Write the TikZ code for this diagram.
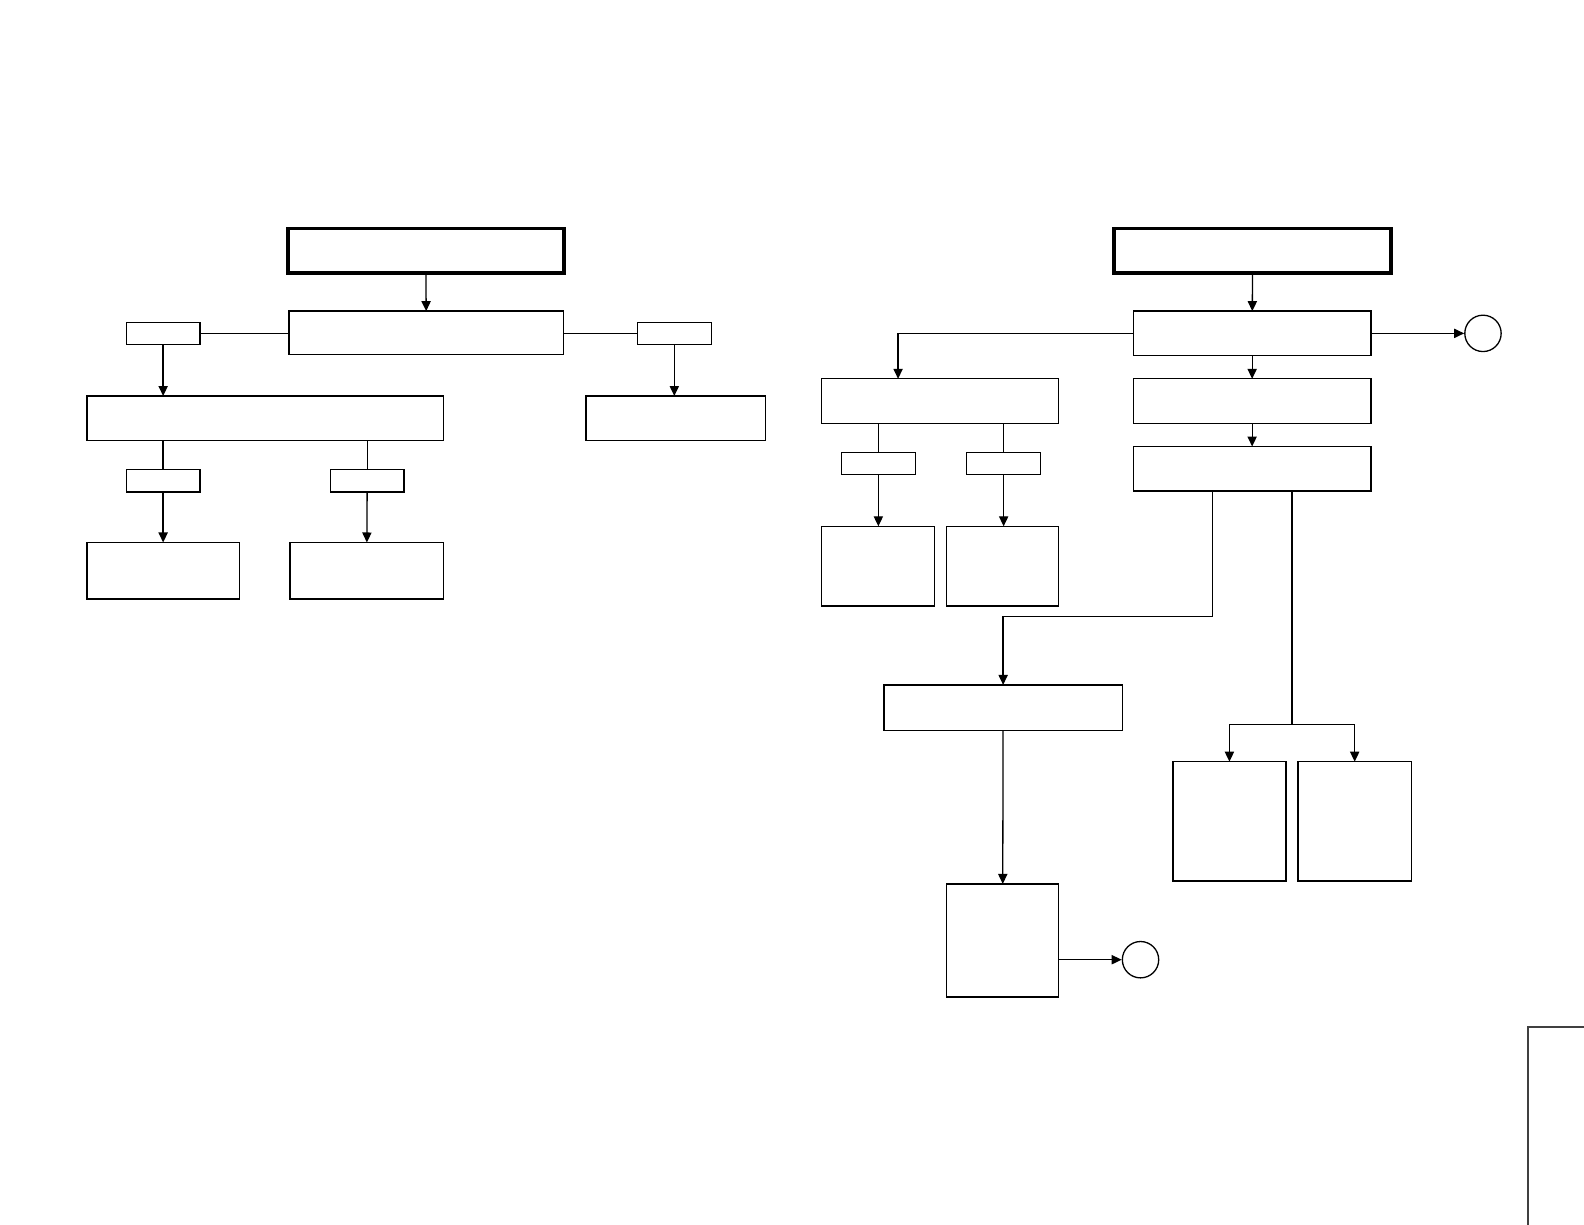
\documentclass[tikz,border=0pt]{standalone}
\usepackage{tikz}
\usetikzlibrary{arrows.meta, positioning, calc}

\newcommand{\px}{0.505pt}

\begin{document}
\begin{tikzpicture}[x=0.505pt, y=-0.505pt,
    >={Triangle[length=5pt, width=4.6pt]},
    line width=0.65pt,
    box/.style={draw, rectangle, inner sep=0pt, outer sep=0pt},
    headbox/.style={box, line width=1.8pt},
    tagbox/.style={box, minimum width=73*\px, minimum height=22*\px},
    endpoint/.style={draw, circle, inner sep=0pt, minimum size=36*\px}]

  \useasboundingbox (0,0) rectangle (1568,1212);

  % left tree
  \node[headbox, minimum width=273*\px, minimum height=44*\px] (ltop) at (421.5,248) {};
  \node[box, minimum width=272*\px, minimum height=43*\px] (lmain) at (422,329.5) {};
  \node[tagbox] (ltagl) at (161.5,330) {};
  \node[tagbox] (ltagr) at (667.5,330) {};
  \node[box, minimum width=353*\px, minimum height=44*\px] (lwide) at (262.5,414) {};
  \node[box, minimum width=178*\px, minimum height=44*\px] (lright) at (669,414) {};
  \node[tagbox] (ltagd) at (161.5,476) {};
  \node[tagbox] (ltage) at (363.5,476) {};
  \node[box, minimum width=151*\px, minimum height=56*\px] (lleafd) at (161.5,565) {};
  \node[box, minimum width=152*\px, minimum height=56*\px] (lleafe) at (363,565) {};

  \draw[->] (ltop) -- (lmain);
  \draw (ltagl.east) -- (lmain.west |- ltagl.east);
  \draw (lmain.east |- ltagr.west) -- (ltagr.west);
  \draw[->] (ltagl) -- (ltagl |- lwide.north);
  \draw[->] (ltagr) -- (ltagr |- lright.north);
  \draw (ltagd |- lwide.south) -- (ltagd);
  \draw (ltage |- lwide.south) -- (ltage);
  \draw[->] (ltagd) -- (lleafd);
  \draw[->] (ltage) -- (lleafe);

  % right tree
  \node[headbox, minimum width=274*\px, minimum height=44*\px] (rtop) at (1240,248) {};
  \node[box, minimum width=235*\px, minimum height=44*\px] (rmain) at (1239.5,330) {};
  \node[endpoint] (rcirca) at (1468,330) {};
  \node[box, minimum width=235*\px, minimum height=44*\px] (rside) at (930.5,397) {};
  \node[box, minimum width=235*\px, minimum height=44*\px] (rstepa) at (1239.5,397) {};
  \node[box, minimum width=235*\px, minimum height=44*\px] (rstepb) at (1239.5,464) {};
  \node[tagbox] (rtagj) at (869.5,459) {};
  \node[tagbox] (rtagk) at (993.5,459) {};
  \node[box, minimum width=112*\px, minimum height=79*\px] (rleafj) at (869,560.5) {};
  \node[box, minimum width=111*\px, minimum height=79*\px] (rleafk) at (992.5,560.5) {};
  \node[box, minimum width=236*\px, minimum height=45*\px] (rlow) at (993,700.5) {};
  \node[box, minimum width=111*\px, minimum height=112*\px] (rend) at (992.5,931) {};
  \node[endpoint] (rcircb) at (1129,950) {};
  \node[box, minimum width=112*\px, minimum height=118*\px] (rleafn) at (1217,813) {};
  \node[box, minimum width=112*\px, minimum height=118*\px] (rleafo) at (1341,813) {};

  \draw[->] (rtop) -- (rmain);
  \draw[->] (rmain) -- (rcirca);
  \draw[->] (rmain.west) -| (889,0 |- rside.north);
  \draw[->] (rmain) -- (rstepa);
  \draw[->] (rstepa) -- (rstepb);
  \draw (rtagj |- rside.south) -- (rtagj);
  \draw (rtagk |- rside.south) -- (rtagk);
  \draw[->] (rtagj) -- (rtagj |- rleafj.north);
  \draw[->] (rtagk) -- (rtagk |- rleafk.north);
  \draw[->] (1200,0 |- rstepb.south) -- (1200,610) -| (rlow.north);
  \draw (1279,0 |- rstepb.south) -- (1279,717);
  \draw[->] (1279,717) -| (rleafn.north);
  \draw[->] (1279,717) -| (rleafo.north);
  \draw[->] (rlow) -- (rend);
  \draw[->] (rend.east |- rcircb) -- (rcircb);

  % corner frame
  \draw[line width=1pt, black!75] (1513,1215) -- (1513,1017) -- (1570,1017);
\end{tikzpicture}
\end{document}
